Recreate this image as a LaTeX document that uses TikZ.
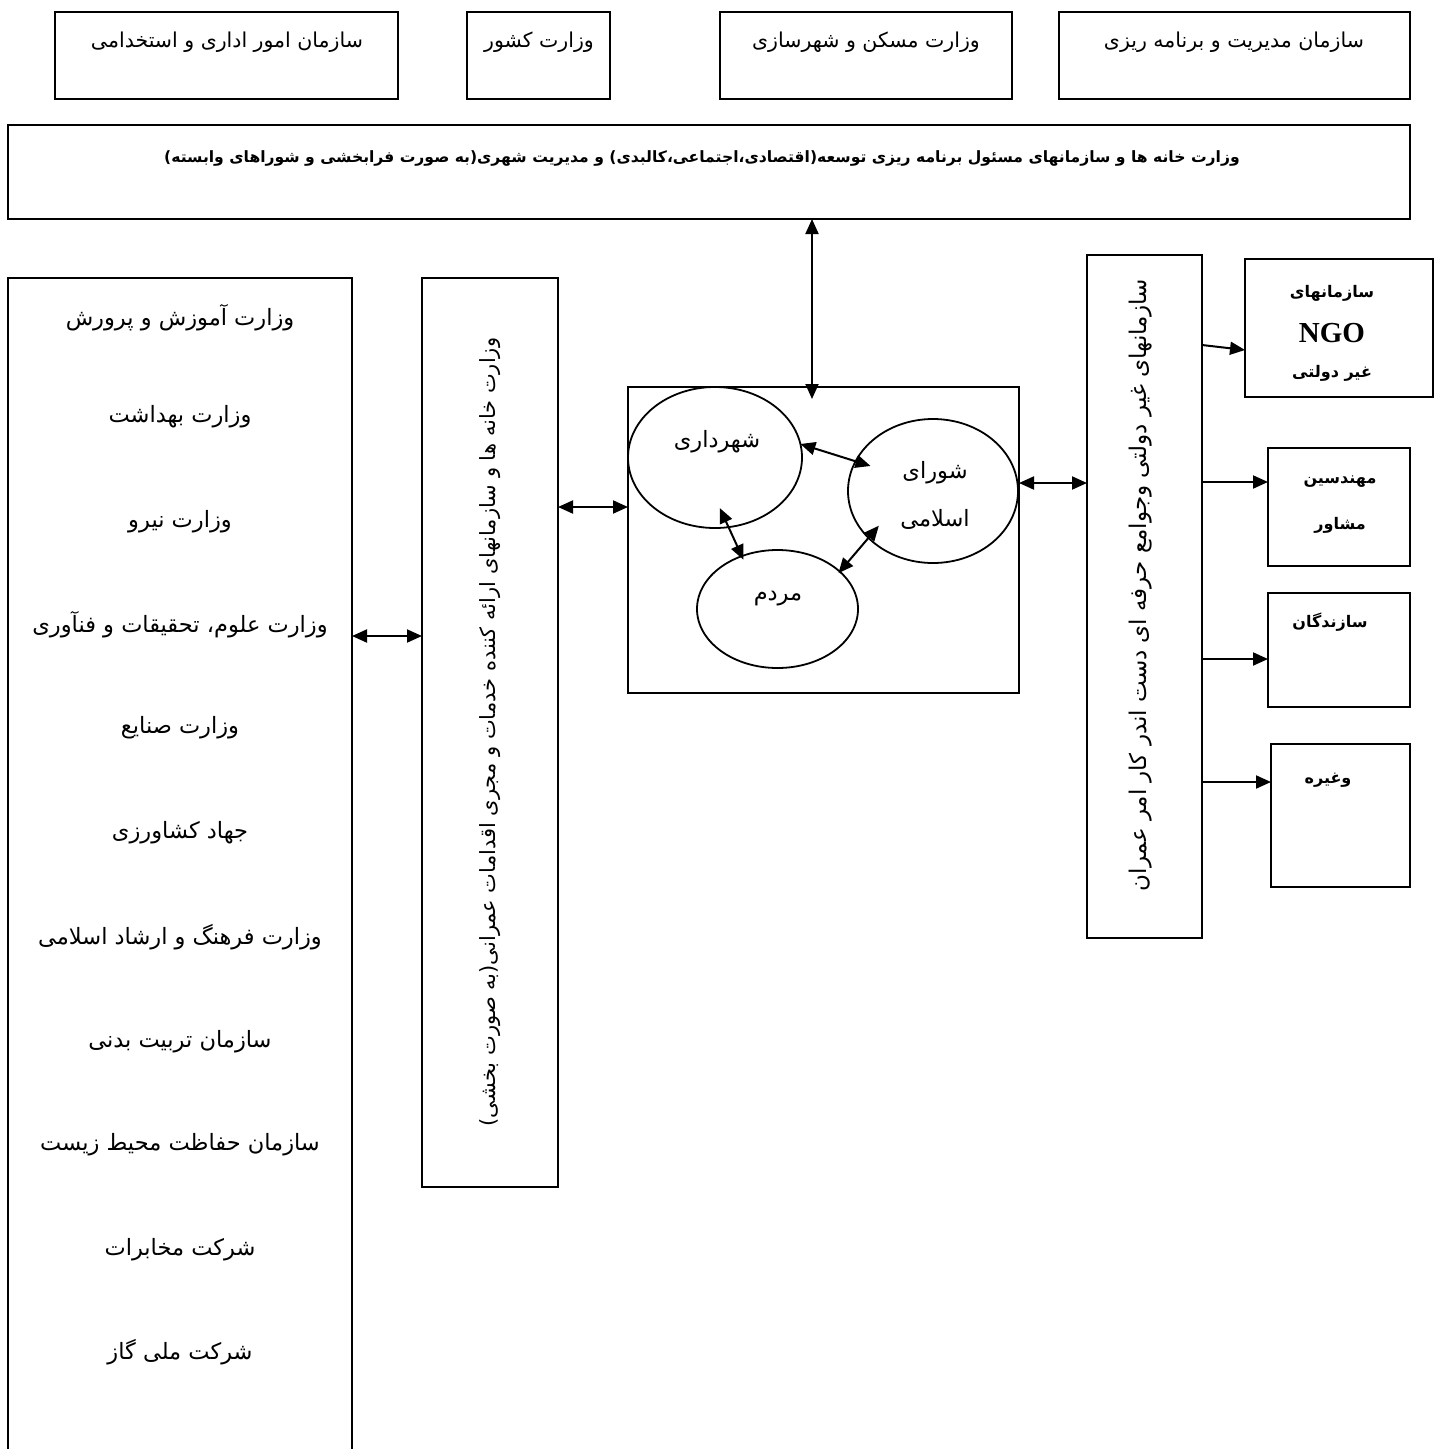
\documentclass[tikz,border=0pt]{standalone}
\usepackage{fontspec}
\usetikzlibrary{arrows.meta,shapes.geometric}
\TeXXeTstate=1
\newfontfamily\fa[Script=Arabic]{DejaVu Sans}
\newfontfamily\tnr{Liberation Serif}
\tikzset{
  box/.style={draw, line width=2.2pt, inner sep=0pt, outer sep=0pt},
  thinbox/.style={draw, line width=1.4pt, inner sep=0pt, outer sep=0pt},
  oval/.style={ellipse, draw, line width=1.8pt, inner sep=0pt, outer sep=0pt},
  toptxt/.style={font=\fa\fontsize{20.5}{24}\selectfont, inner sep=0pt},
  txt/.style={font=\fa\fontsize{22.5}{26}\selectfont, inner sep=0pt},
  btxt/.style={font=\fa\bfseries\fontsize{16}{20}\selectfont, inner sep=0pt},
  wtxt/.style={font=\fa\bfseries\fontsize{15.6}{20}\selectfont, inner sep=0pt},
  vtxt/.style={font=\fa\fontsize{21}{25}\selectfont, inner sep=0pt, rotate=90},
  arr/.style={line width=2pt, {Triangle[length=15pt,width=13pt]}-{Triangle[length=15pt,width=13pt]}},
  sarr/.style={line width=2pt, -{Triangle[length=15pt,width=13pt]}}
}
\begin{document}
\begin{tikzpicture}[x=1pt,y=-1pt]
\useasboundingbox (0,0) rectangle (1441,1449);
\fill[white] (0,0) rectangle (1441,1449);
% top row
\node[box, minimum width=343pt, minimum height=87pt] (b1) at (226.5,55.5) {};
\node[toptxt] (t1) at (227,42) {\beginR سازمان امور اداری و استخدامی\endR};
\node[box, minimum width=143pt, minimum height=87pt] (b2) at (538.5,55.5) {};
\node[toptxt] (t2) at (539,42) {\beginR وزارت کشور\endR};
\node[box, minimum width=292pt, minimum height=87pt] (b3) at (866,55.5) {};
\node[toptxt] (t3) at (866,42) {\beginR وزارت مسکن و شهرسازی\endR};
\node[box, minimum width=351pt, minimum height=87pt] (b4) at (1234.5,55.5) {};
\node[toptxt] (t4) at (1234,42) {\beginR سازمان مدیریت و برنامه ریزی\endR};
% wide box
\node[box, minimum width=1402pt, minimum height=94pt] (W) at (709,172) {};
\node[wtxt] (tw) at (702,158) {\beginR وزارت خانه ها و سازمانهای مسئول برنامه ریزی توسعه(اقتصادی،اجتماعی،کالبدی) و مدیریت شهری(به صورت فرابخشی و شوراهای وابسته)\endR};
% left box (open at the bottom)
\node[minimum width=344pt, minimum height=1171pt, inner sep=0pt, outer sep=0pt] (L) at (180,863.5) {};
\draw[line width=2.2pt] (L.south west) -- (L.north west) -- (L.north east) -- (L.south east);
\node[txt] (l1) at (180,318) {\beginR وزارت آموزش و پرورش\endR};
\node[txt] (l2) at (180,417) {\beginR وزارت بهداشت\endR};
\node[txt] (l3) at (180,522) {\beginR وزارت نیرو\endR};
\node[txt] (l4) at (180,625) {\beginR وزارت علوم، تحقیقات و فنآوری\endR};
\node[txt] (l5) at (180,728) {\beginR وزارت صنایع\endR};
\node[txt] (l6) at (180,833) {\beginR جهاد کشاورزی\endR};
\node[txt] (l7) at (180,937) {\beginR وزارت فرهنگ و ارشاد اسلامی\endR};
\node[txt] (l8) at (180,1042) {\beginR سازمان تربیت بدنی\endR};
\node[txt] (l9) at (180,1145) {\beginR سازمان حفاظت محیط زیست\endR};
\node[txt] (l10) at (180,1250) {\beginR شرکت مخابرات\endR};
\node[txt] (l11) at (180,1352) {\beginR شرکت ملی گاز\endR};
% middle vertical box
\node[box, minimum width=136pt, minimum height=909pt] (M) at (490,732.5) {};
\node[vtxt] (tm) at (490,732) {\beginR وزارت خانه ها و سازمانهای ارائه کننده خدمات و مجری اقدامات عمرانی(به صورت بخشی)\endR};
% inner box with ellipses
\node[thinbox, minimum width=391pt, minimum height=306pt] (I) at (823.5,540) {};
\node[oval, minimum width=174pt, minimum height=141pt] (E1) at (715,457.5) {};
\node[txt] (te1) at (717,442) {\beginR شهرداری\endR};
\node[oval, minimum width=170pt, minimum height=144pt] (E2) at (933,491) {};
\node[txt] (te2a) at (935,473) {\beginR شورای\endR};
\node[txt] (te2b) at (935,519) {\beginR اسلامی\endR};
\node[oval, minimum width=161pt, minimum height=118pt] (E3) at (777.5,609) {};
\node[txt] (te3) at (778,599) {\beginR مردم\endR};
% right vertical box
\node[box, minimum width=115pt, minimum height=683pt] (R) at (1144.5,596.5) {};
\node[vtxt, font=\fa\fontsize{23}{27}\selectfont] (tr) at (1141,585) {\beginR سازمانهای غیر دولتی وجوامع حرفه ای دست اندر کار امر عمران\endR};
% right boxes
\node[box, minimum width=188pt, minimum height=138pt] (N) at (1339,328) {};
\node[btxt] (tn1) at (1332,293) {\beginR سازمانهای\endR};
\node[font=\tnr\bfseries\fontsize{29}{32}\selectfont, inner sep=0pt] (tn2) at (1332,333) {NGO};
\node[btxt] (tn3) at (1332,373) {\beginR غیر دولتی\endR};
\node[box, minimum width=142pt, minimum height=118pt] (C) at (1339,507) {};
\node[btxt] (tc1) at (1340,482) {\beginR مهندسین\endR};
\node[btxt] (tc2) at (1340,525) {\beginR مشاور\endR};
\node[box, minimum width=142pt, minimum height=114pt] (S) at (1339,650) {};
\node[btxt] (ts) at (1330,622) {\beginR سازندگان\endR};
\node[box, minimum width=139pt, minimum height=143pt] (G) at (1340.5,815.5) {};
\node[btxt] (tg) at (1328,780) {\beginR وغیره\endR};
% connector levels
\coordinate (yA) at (0,636);
\coordinate (yB) at (0,507);
\coordinate (yC) at (0,483);
\coordinate (yN1) at (0,345);
\coordinate (yN2) at (0,350);
\coordinate (yD) at (0,482);
\coordinate (yE) at (0,659);
\coordinate (yF) at (0,782);
% connectors
\draw[arr, shorten >=-12pt] ([xshift=103pt]W.south) -- ([xshift=-11.5pt]I.north);
\draw[arr] (L.east |- yA) -- (M.west |- yA);
\draw[arr] (M.east |- yB) -- (I.west |- yB);
\draw[arr] (I.east |- yC) -- (R.west |- yC);
\draw[arr, shorten >=-15.6pt] (E1.9) -- (E2.159.3);
\draw[arr, shorten <=-21pt, shorten >=-4pt] (E1.-79) -- (E3.124.5);
\draw[arr, shorten <=-2pt, shorten >=-16pt] (E3.31.6) -- (E2.216.7);
\draw[sarr] (R.east |- yN1) -- (N.west |- yN2);
\draw[sarr] (R.east |- yD) -- (C.west |- yD);
\draw[sarr] (R.east |- yE) -- (S.west |- yE);
\draw[sarr] (R.east |- yF) -- (G.west |- yF);
\end{tikzpicture}
\end{document}
